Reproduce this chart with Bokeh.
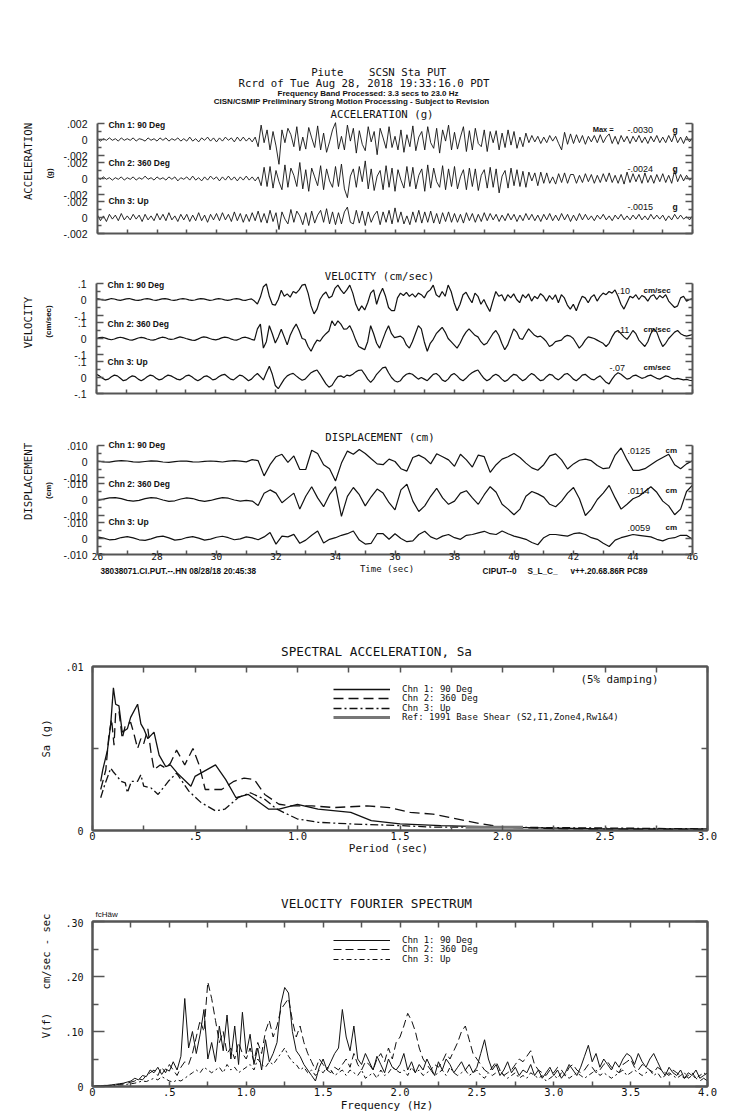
import math
from bokeh.plotting import figure
from bokeh.models import Range1d, LinearAxis, FixedTicker, Label, Legend, LegendItem
from bokeh.layouts import column, row
from bokeh.embed import file_html
from bokeh.resources import INLINE

# ------------------------------------------------------------------ data
T_START = 26.0
DT_FINE = 0.1      # acceleration / velocity sampling step (s)
DT_DISP = 0.2      # displacement sampling step (s)

acc1 = [.0001,-.0002,.0001,-.0001,.0002,-.0001,.0001,-.0002,.0002,-.0001,
        .0001,-.0001,.0002,-.0002,.0001,.0000,-.0002,.0002,-.0001,.0001,
        -.0002,.0002,-.0001,.0002,-.0002,.0001,-.0001,.0002,-.0002,.0001,
        -.0002,.0003,-.0002,.0001,-.0003,.0002,-.0001,.0003,-.0002,.0002,
        -.0003,.0002,-.0002,.0003,-.0001,.0002,-.0003,.0003,-.0002,.0003,
        -.0002,.0002,-.0003,.0003,-.0009,.0018,-.0004,.0012,-.0013,.0010,
        -.0008,-.0031,.0012,-.0004,.0014,.0006,-.0009,.0016,-.0014,.0003,
        -.0012,.0015,.0002,-.0010,.0017,-.0013,.0008,-.0016,-.0003,.0012,
        .0021,-.0012,.0004,-.0013,.0018,-.0002,.0014,-.0017,.0011,-.0006,
        -.0014,.0016,-.0003,.0010,-.0019,.0014,.0002,-.0011,.0016,-.0010,
        .0004,-.0013,.0012,-.0016,.0006,-.0009,.0017,-.0014,.0003,.0010,
        -.0013,.0016,-.0004,-.0011,.0014,-.0017,.0012,-.0002,.0018,-.0013,
        .0009,-.0012,.0003,.0016,-.0015,.0011,-.0013,.0014,-.0005,-.0009,
        .0012,-.0015,.0010,-.0004,.0011,-.0013,.0008,-.0010,.0012,-.0007,
        .0010,-.0011,.0003,-.0009,.0008,-.0004,.0005,-.0003,.0004,-.0005,
        .0003,-.0004,.0005,-.0002,.0004,-.0005,-.0013,.0009,-.0006,.0007,
        -.0005,.0006,-.0004,.0005,-.0006,.0004,-.0003,.0005,-.0004,.0006,
        -.0004,.0003,.0007,-.0005,.0004,-.0006,.0005,-.0003,.0004,-.0005,
        .0004,-.0003,.0005,-.0004,.0003,-.0005,.0004,-.0003,.0005,-.0004,
        .0003,-.0004,.0005,-.0003,.0007,-.0004,.0003,-.0005,.0004,-.0003,
        .0002]
acc2 = [.0001,-.0001,.0002,-.0001,.0001,-.0002,.0001,-.0001,.0002,-.0002,
        .0001,-.0001,.0002,-.0002,.0001,-.0001,.0003,-.0001,.0001,-.0002,
        .0002,-.0001,.0001,-.0002,.0002,-.0001,.0002,-.0003,.0001,-.0001,
        .0002,-.0002,.0003,-.0002,.0001,-.0003,.0002,-.0002,.0003,-.0001,
        .0002,-.0003,.0002,-.0002,.0003,-.0002,.0002,-.0003,.0002,-.0002,
        .0003,-.0002,.0002,-.0003,.0002,-.0009,.0014,-.0010,.0015,-.0012,
        .0010,-.0004,-.0014,.0017,-.0011,.0013,.0004,-.0010,.0020,-.0013,
        .0011,-.0016,.0013,.0002,-.0009,.0016,-.0014,.0012,-.0003,-.0011,
        .0015,-.0010,.0018,-.0013,-.0024,.0003,.0012,-.0011,.0015,-.0004,
        .0022,-.0013,.0012,-.0015,.0003,.0010,-.0014,.0016,-.0011,.0013,
        -.0016,.0011,-.0002,-.0012,.0015,-.0010,.0014,-.0013,.0004,.0012,
        -.0016,.0017,-.0012,.0013,-.0004,-.0011,.0016,-.0014,.0012,-.0010,
        .0015,-.0013,.0002,.0011,-.0014,.0013,-.0010,.0012,-.0015,.0004,
        .0011,-.0012,.0014,-.0011,.0012,-.0018,.0003,.0010,-.0012,.0013,
        -.0009,.0011,-.0010,.0009,-.0011,.0008,-.0003,.0007,-.0009,.0008,
        -.0006,.0007,-.0006,.0002,-.0007,.0006,-.0005,.0007,-.0006,.0005,
        .0005,-.0006,.0004,-.0005,.0006,-.0004,.0005,-.0006,.0004,-.0005,
        .0006,-.0004,.0007,-.0005,.0004,-.0006,.0005,-.0007,.0008,-.0005,
        .0006,-.0004,.0005,-.0006,.0007,-.0005,.0004,-.0006,.0005,-.0004,
        .0006,-.0005,.0004,-.0006,.0010,-.0004,.0005,-.0003,.0004,-.0002,
        .0001]
acc3 = [.0003,-.0004,.0002,-.0005,.0004,-.0002,.0003,-.0004,.0005,-.0003,
        .0002,-.0003,.0004,-.0002,.0003,-.0005,.0004,-.0003,.0002,-.0004,
        .0005,-.0003,.0004,-.0004,.0006,-.0003,.0002,-.0005,.0004,-.0003,
        .0004,-.0005,.0003,-.0004,.0006,-.0004,.0003,-.0006,.0004,-.0003,
        .0005,-.0004,.0006,-.0003,.0004,-.0005,.0007,-.0004,.0005,-.0006,
        .0004,-.0005,.0006,-.0004,.0008,-.0006,.0005,-.0007,.0009,-.0005,
        .0006,-.0015,.0007,-.0002,-.0008,.0010,-.0006,.0008,.0002,-.0009,
        .0006,-.0010,.0008,-.0007,.0003,.0009,-.0006,.0011,-.0008,.0007,
        -.0009,.0006,-.0008,.0007,.0013,-.0006,-.0008,.0009,-.0007,.0008,
        -.0010,.0007,-.0006,.0003,.0008,-.0009,.0007,-.0006,.0009,-.0008,
        .0012,-.0006,.0007,-.0008,.0002,-.0009,.0007,-.0006,.0009,-.0007,
        .0007,-.0006,.0008,-.0007,.0005,-.0008,.0006,-.0005,.0007,-.0006,
        .0005,-.0006,.0004,-.0007,.0006,-.0004,.0005,-.0006,.0004,-.0005,
        .0006,-.0004,.0005,-.0003,.0004,-.0005,.0003,-.0004,.0005,-.0003,
        .0004,-.0005,.0003,-.0004,.0005,-.0003,.0004,-.0004,.0003,-.0005,
        .0004,-.0003,.0005,-.0004,.0003,-.0004,.0005,-.0003,.0004,-.0005,
        .0003,-.0004,.0005,-.0003,.0004,-.0003,.0002,-.0004,.0003,-.0002,
        .0004,-.0003,.0002,-.0004,.0003,-.0002,.0004,-.0003,.0002,-.0003,
        .0003,-.0002,.0004,-.0003,.0002,-.0003,.0004,-.0002,.0003,-.0002,
        .0003,-.0004,.0002,-.0003,.0004,-.0002,.0003,-.0002,.0001,-.0003,
        .0002]

vel1 = [.005,.002,-.003,-.004,.001,.006,.003,-.002,-.005,-.001,
        .004,.006,.001,-.004,-.006,-.002,.003,.005,.002,-.003,
        -.005,-.001,.004,.006,.002,-.003,-.005,-.002,.003,.005,
        .003,-.002,-.006,-.003,.002,.006,.004,-.001,-.005,-.003,
        .002,.005,.003,-.002,-.005,-.002,.003,.006,.002,-.004,
        -.005,.000,.004,-.010,-.028,.015,.080,.097,.020,-.030,
        -.035,.000,.058,.020,.035,.015,.050,.040,.060,.090,
        .095,.040,-.040,-.090,-.060,.000,.030,.047,.010,.020,
        .069,.090,.060,.037,.060,.090,.040,-.030,-.071,-.040,
        -.065,-.020,.040,.060,-.030,.030,.070,.020,-.050,-.070,
        -.070,.010,.040,.025,.045,.020,.035,.015,.040,.030,
        .010,.045,.060,.090,.030,.015,.050,.020,.090,.050,
        -.020,-.070,-.030,.030,.045,.010,-.020,.040,.020,-.030,
        .000,-.040,-.075,-.010,.050,.020,.030,-.010,.030,.010,
        .035,.000,-.020,.030,.010,.035,-.010,.020,.005,.037,
        .020,-.010,.025,.000,.030,-.020,.030,.010,-.035,-.060,
        -.030,-.070,-.020,.020,.010,-.020,.015,.030,-.010,.020,
        .040,.030,.050,.040,.060,.020,-.030,-.060,-.020,.020,
        .010,.030,.000,.025,.015,-.010,.020,.030,.000,.025,
        .010,.030,-.010,-.030,-.050,-.040,.010,.020,-.010,.000,
        .005]
vel2 = [.000,.005,.008,.002,-.004,-.008,-.003,.004,.008,.004,
        -.002,-.008,-.010,-.004,.003,.007,.004,-.003,-.008,-.010,
        -.005,.002,.008,.006,-.002,-.006,-.003,.004,.010,.006,
        .000,-.005,-.010,-.012,-.004,.005,.010,.007,.000,-.006,
        -.009,-.004,.004,.009,.006,-.002,-.008,-.010,-.003,.006,
        .008,.002,-.005,-.010,.060,.090,-.060,-.020,.080,.030,
        -.028,.010,.058,.010,-.040,.020,.060,.090,.050,.000,
        -.006,-.050,-.080,-.040,-.010,-.017,.010,.030,.047,.110,
        .080,.110,.090,.058,.060,.080,.040,-.010,-.050,-.060,
        -.070,-.020,.080,.030,-.030,-.060,-.010,.040,.080,.030,
        .005,.010,.015,.000,-.040,-.060,-.020,.030,.080,.060,
        -.020,-.080,-.030,-.005,.030,.050,.070,.040,.000,-.020,
        -.040,-.060,-.030,.010,.040,.060,.040,.020,.010,-.020,
        -.040,-.030,.000,.030,.050,.020,-.030,-.070,-.040,.010,
        .060,.040,.000,-.005,.030,.060,.040,.020,.010,.015,
        .000,-.020,-.050,-.040,-.020,-.015,-.010,.010,.020,.015,
        .000,-.030,-.060,-.040,-.010,.010,.005,.000,-.010,-.020,
        -.030,-.050,-.030,.010,.040,.050,.030,.010,-.005,.020,
        .050,.030,-.010,-.030,-.050,-.020,.030,.060,.040,-.010,
        -.050,-.030,.000,.020,.040,.050,.030,.020,.015,.020,
        .025]
vel3 = [.020,.010,-.005,-.015,-.010,.005,.015,.010,-.005,-.020,
        -.015,.000,.010,.005,-.010,-.020,-.010,.005,.015,.010,
        -.005,-.015,-.010,.005,.015,.010,.000,-.010,-.015,-.005,
        .010,.015,.005,-.010,-.020,-.010,.005,.010,.000,-.015,
        -.010,.005,.015,.020,.005,-.010,-.015,.000,.015,.010,
        -.005,-.020,-.010,.010,.025,.005,-.015,.030,.070,.020,
        -.050,-.070,-.040,-.010,.010,.020,.026,.010,-.005,-.017,
        -.010,.010,.030,.040,.047,.020,-.010,-.040,-.060,-.050,
        -.020,.005,.010,.000,.015,.010,.020,.035,.045,.047,
        .020,-.010,-.030,-.010,.020,.040,.060,.065,.030,.000,
        -.020,-.028,-.020,.005,.020,.026,.020,.005,-.010,.000,
        -.010,-.020,.000,.020,.025,.010,-.015,-.025,-.010,.015,
        .025,.010,-.010,-.020,-.005,.015,.030,.040,.047,.020,
        -.005,-.020,-.010,.010,.020,.010,-.010,-.025,-.015,.005,
        .020,.015,-.005,-.020,-.010,.010,.025,.015,-.005,-.020,
        -.015,.005,.020,.015,-.005,-.015,.000,.020,.025,.010,
        -.010,-.020,-.005,.015,.020,.005,-.010,-.015,.000,.010,
        -.010,-.030,-.040,-.010,.015,.030,.020,.005,-.010,-.005,
        .010,.015,.005,-.005,.000,.010,.015,.005,-.005,-.010,
        .000,.010,.005,-.005,-.010,-.005,-.010,-.015,-.012,-.017,
        -.020]

dis1 = [.0003,-.0002,-.0004,.0002,.0005,.0003,-.0002,-.0004,.0000,.0004,
        .0002,-.0003,-.0005,-.0001,.0003,.0002,-.0002,-.0003,.0001,.0003,
        .0001,-.0003,.0002,.0005,.0002,-.0002,.0012,.0005,-.0090,-.0020,
        .0030,.0045,-.0005,.0035,-.0050,-.0050,.0070,.0050,-.0020,-.0045,
        -.0122,-.0010,.0065,.0045,.0075,.0050,.0017,-.0015,-.0020,.0015,
        .0000,-.0045,-.0060,.0025,.0040,.0020,-.0015,.0048,.0030,.0010,
        -.0030,.0045,.0010,-.0035,.0040,.0030,-.0068,-.0020,.0015,.0030,
        .0050,.0025,-.0010,-.0040,-.0055,-.0020,.0035,.0048,.0010,-.0047,
        -.0015,.0008,.0015,.0005,-.0025,-.0045,-.0040,.0040,.0085,.0010,
        -.0055,-.0055,-.0045,-.0020,.0005,.0025,.0045,-.0020,-.0045,-.0015,
        .0005]
dis2 = [-.0005,.0002,.0010,.0012,.0005,-.0005,-.0010,-.0005,.0005,.0012,
        .0008,-.0003,-.0012,-.0008,.0003,.0010,.0006,-.0005,-.0012,-.0006,
        .0004,.0012,.0008,-.0003,-.0010,-.0005,-.0010,-.0037,.0039,.0060,
        .0040,-.0020,.0010,.0040,-.0060,.0020,.0080,.0010,-.0045,.0030,
        .0080,-.0105,.0020,.0075,.0030,-.0040,.0017,.0065,.0040,-.0020,
        -.0065,.0060,.0095,-.0010,-.0075,-.0040,.0020,.0070,.0010,-.0030,
        -.0010,.0040,.0055,.0010,-.0030,.0030,.0080,.0045,-.0030,-.0060,
        -.0095,-.0060,.0020,.0050,.0035,.0015,-.0030,-.0045,-.0010,.0040,
        .0075,.0005,-.0100,-.0060,.0000,.0040,.0088,.0010,-.0060,-.0030,
        .0005,.0020,.0050,.0080,.0045,-.0010,-.0040,-.0095,-.0060,.0050,
        .0090]
dis3 = [.0010,.0002,-.0008,-.0005,.0006,.0012,.0004,-.0008,-.0012,-.0002,
        .0010,.0015,.0004,-.0010,-.0006,.0006,.0012,.0002,-.0010,-.0004,
        .0008,.0014,.0005,-.0008,-.0002,.0010,.0004,-.0008,.0010,.0037,
        -.0035,.0015,.0010,.0026,-.0030,-.0010,.0020,.0047,-.0028,-.0005,
        .0005,.0020,.0030,.0047,-.0010,-.0035,-.0030,.0030,.0030,-.0005,
        .0030,.0000,-.0020,-.0015,.0025,.0045,.0010,-.0005,.0015,.0025,
        .0005,-.0005,.0020,.0025,.0035,.0045,.0030,.0025,.0047,.0030,
        .0015,.0005,-.0005,-.0025,-.0039,.0005,.0025,.0025,.0020,.0015,
        .0030,.0035,.0025,.0005,-.0005,-.0030,-.0050,-.0010,.0005,.0015,
        .0025,.0020,.0015,.0010,-.0005,-.0015,.0000,.0005,.0020,.0020,
        -.0005]

# spectral acceleration (period s, Sa g)
sa_p1 = [.04,.05,.073,.089,.102,.113,.129,.145,.17,.186,.22,.236,.25,.27,.30,.325,.357,.38,
         .414,.447,.48,.50,.60,.65,.70,.76,.86,.91,1.0,1.1,1.26,1.36,1.5,1.7,2.0,2.5,3.0]
sa_v1 = [.0030,.0037,.0049,.0065,.0087,.0077,.0076,.0060,.0062,.0069,.0077,.0065,.0062,.0056,
         .0060,.0046,.0039,.0040,.0035,.0031,.0027,.0033,.0040,.0031,.0020,.0022,.0013,.0013,
         .0016,.0013,.0011,.0006,.0004,.0003,.0002,.0001,.0001]
sa_p2 = [.04,.065,.08,.093,.105,.113,.129,.145,.16,.186,.20,.22,.236,.25,.27,.285,.30,.33,
         .357,.38,.41,.45,.49,.52,.55,.63,.69,.74,.79,.84,.91,.97,1.07,1.18,1.34,1.45,1.55,
         1.66,1.74,1.82,1.9,2.0,2.3,3.0]
sa_v2 = [.0025,.0037,.0058,.0068,.0052,.0072,.0073,.0056,.0064,.0066,.0060,.0050,.0056,.0053,
         .0062,.0048,.0037,.0040,.0038,.0041,.0049,.0040,.0050,.0040,.0025,.0025,.0030,.0032,
         .0031,.0022,.0016,.0015,.0015,.0014,.0015,.0014,.0011,.0010,.0008,.0006,.0004,.0002,
         .0001,.00005]
sa_p3 = [.04,.06,.089,.10,.12,.14,.16,.17,.19,.22,.236,.25,.285,.32,.37,.41,.47,.53,.60,.645,
         .71,.77,.84,.90,1.0,1.1,1.26,1.5,1.67,2.0,3.0]
sa_v3 = [.0020,.0028,.0038,.0036,.0033,.0030,.0029,.0023,.0030,.0030,.0034,.0027,.0026,.0022,
         .0030,.0035,.0024,.0017,.0012,.0013,.0020,.0023,.0019,.0013,.0007,.0005,.0004,.0003,
         .0002,.0002,.0001]
sa_pr = [1.82,1.9,2.0,2.1]
sa_vr = [.0002,.0002,.0002,.0002]

# velocity Fourier spectrum, sampled every 0.025 Hz from 0 to 4 Hz
DF = 0.025
fs1 = [0,.001,.001,.002,.002,.003,.004,.005,
       .006,.008,.010,.015,.012,.020,.018,.030,
       .025,.035,.022,.032,.028,.045,.030,.055,
       .160,.070,.100,.060,.095,.140,.050,.080,
       .045,.110,.065,.130,.050,.110,.040,.135,
       .060,.095,.040,.070,.030,.085,.045,.060,
       .080,.150,.180,.170,.100,.065,.055,.040,
       .030,.020,.010,.035,.050,.030,.045,.060,
       .070,.140,.090,.065,.110,.050,.040,.060,
       .045,.030,.055,.040,.025,.050,.035,.030,
       .040,.060,.030,.045,.025,.040,.030,.050,
       .035,.020,.045,.030,.050,.040,.025,.035,
       .045,.030,.040,.025,.035,.060,.085,.050,
       .030,.040,.020,.030,.045,.025,.035,.020,
       .030,.025,.040,.020,.030,.015,.025,.035,
       .020,.030,.015,.025,.040,.030,.020,.035,
       .055,.075,.045,.060,.035,.050,.040,.030,
       .045,.035,.050,.060,.055,.040,.060,.045,
       .035,.050,.060,.045,.030,.020,.035,.025,
       .020,.030,.015,.025,.020,.030,.015,.020,.025]
fs2 = [0,.001,.001,.001,.002,.002,.003,.004,
       .005,.006,.008,.010,.014,.012,.020,.025,
       .030,.020,.035,.025,.040,.030,.020,.035,
       .045,.040,.060,.090,.120,.100,.190,.160,
       .120,.080,.100,.060,.070,.050,.080,.060,
       .050,.070,.045,.080,.060,.100,.120,.090,
       .110,.140,.150,.160,.120,.090,.110,.080,
       .060,.045,.030,.050,.040,.030,.025,.035,
       .030,.040,.050,.035,.060,.040,.030,.045,
       .040,.030,.050,.060,.045,.070,.050,.080,
       .090,.110,.133,.120,.100,.070,.050,.040,
       .030,.040,.035,.045,.060,.050,.065,.080,
       .100,.110,.085,.060,.050,.040,.030,.025,
       .035,.045,.030,.020,.025,.030,.040,.050,
       .045,.055,.065,.040,.030,.025,.020,.030,
       .025,.035,.030,.020,.035,.040,.030,.025,
       .030,.040,.035,.025,.030,.040,.045,.035,
       .030,.025,.040,.045,.050,.035,.030,.040,
       .035,.030,.025,.035,.030,.025,.020,.030,
       .025,.020,.015,.020,.025,.015,.010,.015,.010]
fs3 = [0,0,.001,.001,.001,.002,.002,.003,
       .003,.004,.005,.006,.008,.010,.009,.012,
       .015,.012,.018,.014,.010,.008,.012,.010,
       .015,.020,.025,.030,.025,.035,.030,.025,
       .030,.035,.025,.040,.030,.035,.025,.030,
       .035,.040,.030,.050,.040,.035,.045,.040,
       .050,.060,.070,.055,.045,.040,.030,.035,
       .025,.030,.020,.030,.025,.035,.030,.020,
       .025,.030,.020,.030,.025,.020,.030,.015,
       .020,.025,.015,.030,.020,.025,.035,.030,
       .025,.030,.020,.035,.025,.030,.020,.025,
       .030,.020,.025,.030,.020,.035,.025,.020,
       .025,.030,.020,.025,.030,.020,.015,.025,
       .020,.025,.030,.020,.015,.020,.025,.015,
       .020,.015,.025,.020,.015,.020,.010,.015,
       .020,.015,.025,.020,.015,.020,.025,.020,
       .015,.020,.025,.030,.020,.025,.020,.015,
       .020,.025,.030,.020,.025,.030,.025,.020,
       .025,.030,.020,.025,.015,.020,.025,.020,
       .015,.020,.025,.015,.020,.015,.020,.025,.020]

# ------------------------------------------------------------------ styling
MONO = "DejaVu Sans Mono"
SANS = "Liberation Sans"
AX = "#555555"
INK = "#111111"
PAGE_H = 1115
LEFT_W = 60          # strip holding the rotated side labels
RW = 739 - LEFT_W    # width of the right-hand column


def plain_fig(width, page_top, page_bot, x0, x1, border=None):
    b = border or {}
    p = figure(width=width, height=page_bot - page_top, title=None,
               output_backend="svg", toolbar_location=None,
               x_range=Range1d(x0, x1),
               y_range=Range1d(page_bot - b.get("bottom", 0), page_top + b.get("top", 0)),
               x_axis_type=None, y_axis_type=None,
               min_border_left=b.get("left", 0), min_border_right=b.get("right", 0),
               min_border_top=b.get("top", 0), min_border_bottom=b.get("bottom", 0))
    p.frame_align = False
    p.outline_line_color = None
    p.background_fill_color = "white"
    p.border_fill_color = "white"
    return p


def framed_fig(page_top, frame_top, frame_bot, page_bot, x0, x1):
    return plain_fig(RW, page_top, page_bot, x0, x1,
                     border=dict(left=x0 - LEFT_W, right=739 - x1,
                                 top=frame_top - page_top, bottom=page_bot - frame_bot))


def style_axis(ax, show_labels=True, size="10px", font=MONO, standoff=8,
               tin=6, tin_minor=4, width=2):
    ax.axis_line_color = AX
    ax.axis_line_width = width
    ax.major_tick_line_color = AX
    ax.minor_tick_line_color = AX
    ax.major_tick_line_width = 1.5
    ax.minor_tick_line_width = 1.5
    ax.major_tick_in = tin
    ax.major_tick_out = 0
    ax.minor_tick_in = tin_minor
    ax.minor_tick_out = 0
    ax.major_label_text_font = font
    if show_labels:
        ax.major_label_text_font_size = size
        ax.major_label_text_color = INK
        ax.major_label_standoff = standoff
    else:
        ax.major_label_text_font_size = "1px"
        ax.major_label_text_color = None
        ax.major_label_standoff = 0


def lab(p, x, y, text, font=MONO, size="10.7px", align="center", style="normal", angle=0.0):
    p.add_layout(Label(x=x, y=y, text=text, text_font=font, text_font_size=size,
                       text_align=align, text_baseline="middle", text_font_style=style,
                       angle=angle, text_color=INK))


def ts_section(page_top, frame_top, frame_bot, page_bot, centers, scale, traces,
               top_lbl, bot_lbl, time_labels, lw):
    p = framed_fig(page_top, frame_top, frame_bot, page_bot, 96, 692)
    p.extra_x_ranges = {"t": Range1d(26, 46)}
    p.extra_y_ranges = {f"y{k}": Range1d((c - frame_bot) / scale, (c - frame_top) / scale)
                        for k, c in enumerate(centers)}
    for k, (dt, vals) in enumerate(traces):
        tt = [T_START + i * dt for i in range(len(vals))]
        p.line(tt, vals, x_range_name="t", y_range_name=f"y{k}",
               line_color=INK, line_width=lw)
    major, minor, over = [], [], {}
    for c in centers:
        major += [c - 16, c, c + 16]
        minor += [c - 8, c + 8]
        over[c - 16] = top_lbl
        over[c] = "0"
        over[c + 16] = bot_lbl
    bounds = (centers[0] - 16, frame_bot)
    left = LinearAxis(ticker=FixedTicker(ticks=major, minor_ticks=minor),
                      major_label_overrides=over, bounds=bounds)
    style_axis(left, size="10.5px", font=SANS, standoff=10, tin=7, tin_minor=4)
    p.add_layout(left, "left")
    right = LinearAxis(ticker=FixedTicker(ticks=major, minor_ticks=minor), bounds=bounds)
    style_axis(right, show_labels=False, tin=7, tin_minor=4)
    p.add_layout(right, "right")
    if time_labels:
        bt = LinearAxis(x_range_name="t",
                        ticker=FixedTicker(ticks=list(range(26, 47, 2)),
                                           minor_ticks=list(range(27, 46, 2))))
        style_axis(bt, size="9.5px", standoff=-2, tin=4, tin_minor=4)
    else:
        bt = LinearAxis(x_range_name="t", ticker=FixedTicker(ticks=list(range(26, 47))))
        style_axis(bt, show_labels=False, tin=4, tin_minor=4)
    p.add_layout(bt, "below")
    return p


# ---------------------------------------------------------------- left strip (rotated labels)
fL = plain_fig(LEFT_W, 0, PAGE_H, 0, LEFT_W)
lab(fL, 28, 161, "ACCELERATION", angle=math.pi / 2)
lab(fL, 49, 173, "(g)", font=SANS, size="8px", style="bold", angle=math.pi / 2)
lab(fL, 28, 322, "VELOCITY", angle=math.pi / 2)
lab(fL, 48, 321, "(cm/sec)", font=SANS, size="8px", style="bold", angle=math.pi / 2)
lab(fL, 28, 481, "DISPLACEMENT", angle=math.pi / 2)
lab(fL, 48, 490, "(cm)", font=SANS, size="8px", style="bold", angle=math.pi / 2)
lab(fL, 45, 738, "Sa (g)", size="10.5px", angle=math.pi / 2)
lab(fL, 45, 1025, "V(f)", size="10.5px", angle=math.pi / 2)
lab(fL, 45, 951, "cm/sec - sec", size="10.5px", angle=math.pi / 2)

# ---------------------------------------------------------------- acceleration (+ header)
fA = ts_section(0, 60, 233, 243, [139, 178, 217], 16 / 0.002,
                [(DT_FINE, acc1), (DT_FINE, acc2), (DT_FINE, acc3)], ".002", "-.002", False, 0.9)
lab(fA, 310, 71.5, "Piute", align="left")
lab(fA, 368, 71.5, "SCSN Sta PUT", align="left")
lab(fA, 363, 83, "Rcrd of Tue Aug 28, 2018 19:33:16.0 PDT")
lab(fA, 367, 92.5, "Frequency Band Processed: 3.3 secs to 23.0 Hz", font=SANS, size="8px", style="bold")
lab(fA, 350.5, 100.5, "CISN/CSMIP Preliminary Strong Motion Processing - Subject to Revision",
    font=SANS, size="8px", style="bold")
lab(fA, 381, 114, "ACCELERATION (g)")
for yy, txt in [(124, "Chn 1: 90 Deg"), (162, "Chn 2: 360 Deg"), (200, "Chn 3: Up")]:
    lab(fA, 107, yy, txt, font=SANS, size="8.5px", align="left", style="bold")
lab(fA, 592, 129, "Max =", font=SANS, size="7.5px", align="left", style="bold")
for yy, txt in [(129, "-.0030"), (168, "-.0024"), (206, "-.0015")]:
    lab(fA, 627, yy, txt, font=SANS, size="9px", align="left")
    lab(fA, 672, yy, "g", font=SANS, size="8.5px", align="left", style="bold")

# ---------------------------------------------------------------- velocity
fV = ts_section(243, 250, 393, 403, [299, 338, 377], 16 / 0.1,
                [(DT_FINE, vel1), (DT_FINE, vel2), (DT_FINE, vel3)], ".1", "-.1", False, 1.2)
lab(fV, 379, 276, "VELOCITY (cm/sec)")
for yy, txt in [(284, "Chn 1: 90 Deg"), (323, "Chn 2: 360 Deg"), (361, "Chn 3: Up")]:
    lab(fV, 107, yy, txt, font=SANS, size="8.5px", align="left", style="bold")
for yy, xx, txt in [(290, 617, ".10"), (329, 617, ".11"), (367, 609, "-.07")]:
    lab(fV, xx, yy, txt, font=SANS, size="9px", align="left")
    lab(fV, 643, yy, "cm/sec", font=SANS, size="8px", align="left", style="bold")

# ---------------------------------------------------------------- displacement
fD = ts_section(403, 410, 554, 564, [461, 499, 538], 16 / 0.010,
                [(DT_DISP, dis1), (DT_DISP, dis2), (DT_DISP, dis3)], ".010", "-.010", True, 1.2)
lab(fD, 379, 437, "DISPLACEMENT (cm)")
for yy, txt in [(444, "Chn 1: 90 Deg"), (483, "Chn 2: 360 Deg"), (521, "Chn 3: Up")]:
    lab(fD, 107, yy, txt, font=SANS, size="8.5px", align="left", style="bold")
for yy, txt in [(450, ".0125"), (490, ".0114"), (527, ".0059")]:
    lab(fD, 627, yy, txt, font=SANS, size="9px", align="left")
    lab(fD, 665, yy, "cm", font=SANS, size="8px", align="left", style="bold")

# ---------------------------------------------------------------- footer + Sa title strip
fT1 = plain_fig(RW, 564, 660, LEFT_W, 739)
lab(fT1, 386.5, 568, "Time (sec)", size="9px")
lab(fT1, 100, 571, "38038071.CI.PUT.--.HN 08/28/18 20:45:38", font=SANS, size="8.2px",
    align="left", style="bold")
lab(fT1, 482, 571, "CIPUT--0", font=SANS, size="8.2px", align="left", style="bold")
lab(fT1, 527, 571, "S_L_C_", font=SANS, size="8.2px", align="left", style="bold")
lab(fT1, 570, 571, "v++.20.68.86R PC89", font=SANS, size="8.2px", align="left", style="bold")
lab(fT1, 376, 651, "SPECTRAL ACCELERATION, Sa", size="12.7px")


# ---------------------------------------------------------------- spectra helpers
def spec_axes(p, xname, yname, xt, xminor, xover, yt, yminor, yover, ytin, yminor_in):
    below = LinearAxis(x_range_name=xname, ticker=FixedTicker(ticks=xt, minor_ticks=xminor),
                       major_label_overrides=xover)
    style_axis(below, size="10.5px", standoff=1, tin=5, tin_minor=5)
    p.add_layout(below, "below")
    above = LinearAxis(x_range_name=xname, ticker=FixedTicker(ticks=xt, minor_ticks=xminor))
    style_axis(above, show_labels=False, tin=6, tin_minor=6)
    p.add_layout(above, "above")
    left = LinearAxis(y_range_name=yname, ticker=FixedTicker(ticks=yt, minor_ticks=yminor),
                      major_label_overrides=yover)
    style_axis(left, size="10px", standoff=9, tin=ytin, tin_minor=yminor_in)
    p.add_layout(left, "left")
    right = LinearAxis(y_range_name=yname, ticker=FixedTicker(ticks=yt, minor_ticks=yminor))
    style_axis(right, show_labels=False, tin=ytin, tin_minor=yminor_in)
    p.add_layout(right, "right")
    p.outline_line_color = AX
    p.outline_line_width = 2


def add_legend_rows(p, entries, frame_bot, vx=241):
    # one single-row legend per entry so that each row sits where the original puts it
    for (label, rend), row_center in entries:
        p.add_layout(Legend(items=[LegendItem(label=label, renderers=[rend])],
                            location=(vx, frame_bot - 7 - row_center),
                            glyph_width=57, glyph_height=6, label_height=6, label_standoff=12,
                            spacing=0, padding=0, margin=0,
                            background_fill_alpha=0, border_line_color=None,
                            label_text_font=MONO, label_text_font_size="9px",
                            label_text_color=INK))


# ---------------------------------------------------------------- spectral acceleration
fS = framed_fig(660, 666, 832, 842, 92, 707)
fS.extra_x_ranges = {"p": Range1d(0, 3)}
fS.extra_y_ranges = {"sa": Range1d(0, 0.01)}
spec_axes(fS, "p", "sa",
          [0, 0.5, 1.0, 1.5, 2.0, 2.5, 3.0], [0.25, 0.75, 1.25, 1.75, 2.25, 2.75],
          {0: "0", 0.5: ".5", 1.0: "1.0", 1.5: "1.5", 2.0: "2.0", 2.5: "2.5", 3.0: "3.0"},
          [0, 0.01], [0.005], {0: "0", 0.01: ".01"}, 0, 6)
r1 = fS.line(sa_p1, sa_v1, x_range_name="p", y_range_name="sa", line_color=INK, line_width=1.3)
r2 = fS.line(sa_p2, sa_v2, x_range_name="p", y_range_name="sa", line_color=INK, line_width=1.3,
             line_dash="10 5")
r3 = fS.line(sa_p3, sa_v3, x_range_name="p", y_range_name="sa", line_color=INK, line_width=1.3,
             line_dash="8 3 2 3")
r4 = fS.line(sa_pr, sa_vr, x_range_name="p", y_range_name="sa", line_color="#777777",
             line_width=3)
add_legend_rows(fS, [(("Chn 1: 90 Deg", r1), 688.5), (("Chn 2: 360 Deg", r2), 698),
                     (("Chn 3: Up", r3), 707.5),
                     (("Ref: 1991 Base Shear (S2,I1,Zone4,Rw1&4)", r4), 717)], 832)
lab(fS, 619, 679, "(5% damping)", size="10.8px")

# ---------------------------------------------------------------- strip between spectra
fT2 = plain_fig(RW, 842, 918, LEFT_W, 739)
lab(fT2, 388, 848, "Period (sec)", size="11px")
lab(fT2, 376, 903, "VELOCITY FOURIER SPECTRUM", size="12.7px")
lab(fT2, 95, 914, "fcHäw", font=SANS, size="8px", align="left")

# ---------------------------------------------------------------- Fourier spectrum
fF = framed_fig(918, 921, 1086, 1098, 92, 707)
fF.extra_x_ranges = {"f": Range1d(0, 4)}
fF.extra_y_ranges = {"v": Range1d(0, 0.30)}
spec_axes(fF, "f", "v",
          [0, 0.5, 1.0, 1.5, 2.0, 2.5, 3.0, 3.5, 4.0],
          [0.25, 0.75, 1.25, 1.75, 2.25, 2.75, 3.25, 3.75],
          {0: "0", 0.5: ".5", 1.0: "1.0", 1.5: "1.5", 2.0: "2.0", 2.5: "2.5", 3.0: "3.0",
           3.5: "3.5", 4.0: "4.0"},
          [0, 0.1, 0.2, 0.3], [0.05, 0.15, 0.25], {0: "0", 0.1: ".10", 0.2: ".20", 0.3: ".30"},
          12, 6)
ff = [i * DF for i in range(len(fs1))]
q3 = fF.line(ff, fs3, x_range_name="f", y_range_name="v", line_color=INK, line_width=1,
             line_dash="5 3 2 3")
q2 = fF.line(ff, fs2, x_range_name="f", y_range_name="v", line_color=INK, line_width=1,
             line_dash="8 4")
q1 = fF.line(ff, fs1, x_range_name="f", y_range_name="v", line_color=INK, line_width=1)
add_legend_rows(fF, [(("Chn 1: 90 Deg", q1), 937.5), (("Chn 2: 360 Deg", q2), 947),
                     (("Chn 3: Up", q3), 956.5)], 1086)

# ---------------------------------------------------------------- bottom strip
fT3 = plain_fig(RW, 1098, PAGE_H, LEFT_W, 739)
lab(fT3, 386.5, 1105, "Frequency (Hz)", size="11px")

right_col = column(fA, fV, fD, fT1, fS, fT2, fF, fT3, spacing=0)
layout = row(fL, right_col, spacing=0)
open("out.html", "w").write(file_html(layout, INLINE))
